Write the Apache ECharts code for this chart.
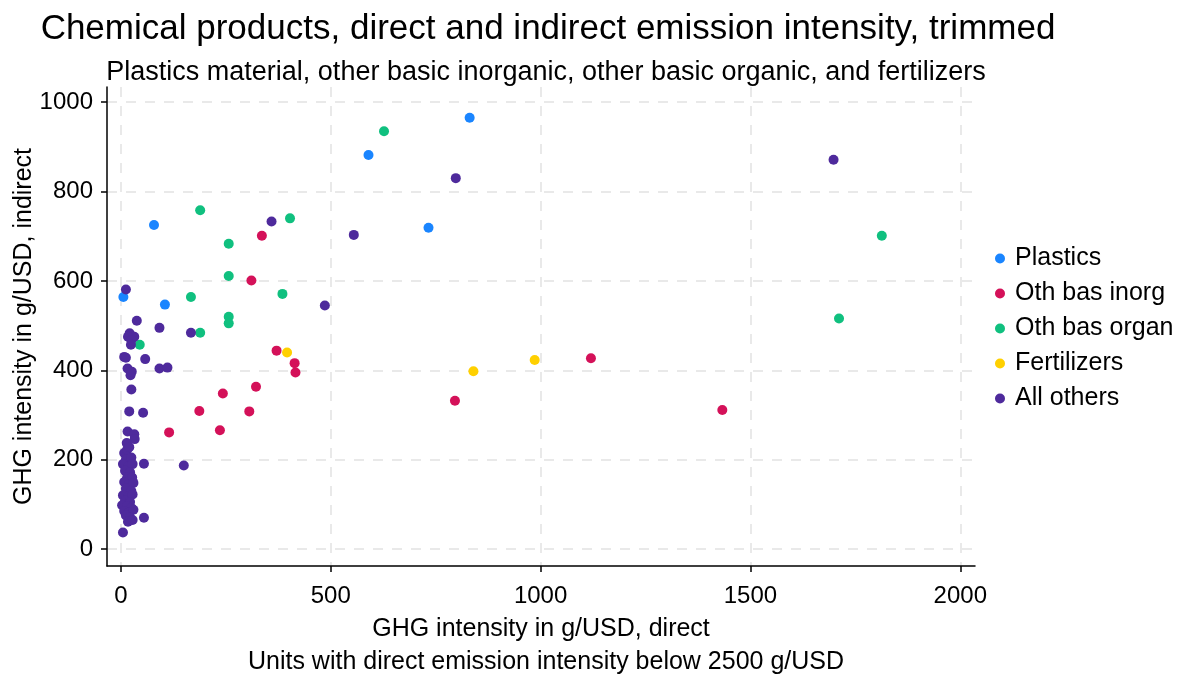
<!DOCTYPE html>
<html>
<head>
<meta charset="utf-8">
<script src="https://cdn.jsdelivr.net/npm/echarts@6/dist/echarts.min.js"></script>
<style>
html,body{margin:0;padding:0;background:#fff;}
#chart{width:1184px;height:678px;}
</style>
</head>
<body>
<div id="chart"></div>
<script>
var seriesNames = ['Plastics', 'Oth bas inorg', 'Oth bas organ', 'Fertilizers', 'All others'];
var xTicks = [0, 500, 1000, 1500, 2000];
var yTicks = [0, 200, 400, 600, 800, 1000];

var plastics = [[6,564],[79,725],[105,547],[590,882],[733,719],[831,965]];
var othBasInorg = [[336,701],[311,601],[371,444],[414,416],[416,395],[322,363],[243,348],[187,309],[306,308],[115,261],[236,266],[796,332],[1120,427],[1433,311]];
var othBasOrgan = [[189,758],[403,740],[627,935],[257,683],[257,611],[167,564],[385,571],[257,520],[257,505],[189,484],[45,457],[1813,701],[1711,516]];
var fertilizers = [[396,440],[840,398],[986,423]];
var allOthers = [[12,581],[359,733],[555,703],[798,830],[1698,871],[486,545],[38,511],[92,495],[167,484],
  [21,483],[32,475],[17,475],[25,468],[24,457],[8,430],[12,428],[58,425],[16,404],[23,389],[26,397],
  [92,404],[111,406],[25,357],[20,308],[53,305],[16,263],[32,257],[33,246],[14,237],[55,191],[150,187],
  [55,70],[5,37],
  [8,215],[15,222],[20,228],[12,200],[25,205],[5,190],[18,185],[28,190],[10,175],[22,172],[15,160],
  [27,160],[8,150],[20,145],[30,148],[12,135],[25,130],[5,120],[18,118],[28,122],[10,108],[22,105],
  [3,98],[15,95],[25,92],[8,85],[20,82],[30,88],[12,75],[22,70],[17,61],[28,65]];

var colors = ['#1a85ff', '#d41159', '#10c07f', '#ffd000', '#4e2a9c'];
var datasets = [plastics, othBasInorg, othBasOrgan, fertilizers, allOthers];
var FONT = '"Liberation Sans", Arial, sans-serif';

var chart = echarts.init(document.getElementById('chart'));
var gridLine = {show: true, lineStyle: {color: '#e9e9e9', width: 2, type: [10, 9]}};
function plain(v) { return String(v); }

chart.setOption({
  animation: false,
  color: colors,
  textStyle: {fontFamily: FONT, color: '#000'},
  title: [
    {text: 'Chemical products, direct and indirect emission intensity, trimmed', left: 543, top: 7, textAlign: 'center',
     textStyle: {fontFamily: FONT, fontSize: 35, fontWeight: 'normal', color: '#000'}},
    {text: 'Plastics material, other basic inorganic, other basic organic, and fertilizers', left: 541, top: 54, textAlign: 'center',
     textStyle: {fontFamily: FONT, fontSize: 27, fontWeight: 'normal', color: '#000'}},
    {text: 'Units with direct emission intensity below 2500 g/USD', left: 541, top: 645, textAlign: 'center',
     textStyle: {fontFamily: FONT, fontSize: 25, fontWeight: 'normal', color: '#000'}}
  ],
  legend: {
    orient: 'vertical', left: 995, top: 246, padding: 0,
    itemWidth: 10, itemHeight: 10, itemGap: 10, icon: 'circle',
    data: seriesNames,
    textStyle: {fontFamily: FONT, fontSize: 25, color: '#000', padding: [0, 0, 0, 5]}
  },
  grid: {left: 107, right: 209, top: 87, bottom: 112, containLabel: false, outerBoundsMode: 'none'},
  xAxis: {
    type: 'value', min: -33, max: 2035,
    name: 'GHG intensity in g/USD, direct', nameLocation: 'middle', nameGap: 51, nameMoveOverlap: false,
    nameTextStyle: {fontFamily: FONT, fontSize: 25, color: '#000'},
    axisLine: {show: true, onZero: false, lineStyle: {color: '#000', width: 1.5}},
    axisTick: {show: true, length: 6, lineStyle: {color: '#000', width: 1.5}, customValues: xTicks},
    axisLabel: {fontFamily: FONT, fontSize: 24, color: '#000', margin: 18, customValues: xTicks, formatter: plain},
    splitLine: gridLine
  },
  yAxis: {
    type: 'value', min: -38, max: 1034,
    name: 'GHG intensity in g/USD, indirect', nameLocation: 'middle', nameGap: 70, nameRotate: 90, nameMoveOverlap: false,
    nameTextStyle: {fontFamily: FONT, fontSize: 25, color: '#000'},
    axisLine: {show: true, onZero: false, lineStyle: {color: '#000', width: 1.5}},
    axisTick: {show: true, length: 6, lineStyle: {color: '#000', width: 1.5}, customValues: yTicks},
    axisLabel: {fontFamily: FONT, fontSize: 24, color: '#000', margin: 14, customValues: yTicks, formatter: plain},
    splitLine: gridLine
  },
  series: seriesNames.map(function (n, i) {
    return {
      name: n, type: 'scatter', data: datasets[i], symbol: 'circle', symbolSize: 10,
      itemStyle: {color: colors[i], opacity: 1}
    };
  })
});
</script>
</body>
</html>
